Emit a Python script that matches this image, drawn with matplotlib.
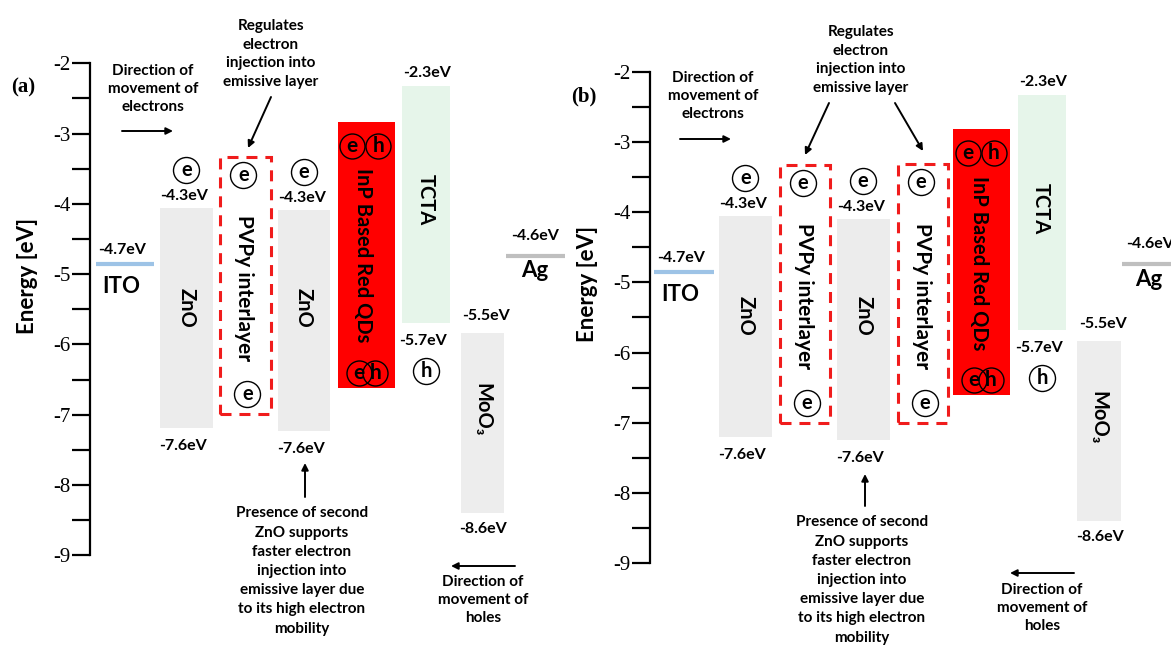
import matplotlib
matplotlib.use('Agg')
import matplotlib.pyplot as plt
from matplotlib.patches import Rectangle
from matplotlib.ticker import FuncFormatter

# ---------------- data ----------------
yticks_major = [-9, -8, -7, -6, -5, -4, -3, -2]
yticks_minor = [-8.5, -7.5, -6.5, -5.5, -4.5, -3.5, -2.5]

electrode_names = ['ITO', 'Ag']
electrode_level = [-4.85, -4.74]          # drawn level on the axis (eV)
electrode_text = ['-4.7eV', '-4.6eV']     # printed value

layers_a = ['ZnO', 'PVPy interlayer', 'ZnO', 'InP Based Red QDs', 'TCTA', 'MoO₃']
top_a = [-4.06, -3.33, -4.09, -2.83, -2.33, -5.84]
bottom_a = [-7.19, -6.99, -7.23, -6.62, -5.69, -8.39]

layers_b = ['ZnO', 'PVPy interlayer', 'ZnO', 'PVPy interlayer', 'InP Based Red QDs', 'TCTA', 'MoO₃']
top_b = [-4.06, -3.33, -4.10, -3.32, -2.81, -2.33, -5.84]
bottom_b = [-7.20, -7.01, -7.24, -7.00, -6.61, -5.68, -8.40]

top_text = {'ZnO': '-4.3eV', 'TCTA': '-2.3eV', 'MoO₃': '-5.5eV'}
bottom_text = {'ZnO': '-7.6eV', 'TCTA': '-5.7eV', 'MoO₃': '-8.6eV'}

# ---------------- layout / style ----------------
W, H = 1171, 646
FONT = ['Lato', 'DejaVu Sans']
SERIF = 'Liberation Serif'
LVL_FS = 11.5

panels = {
    'a': dict(px_m2=63.3, px_per_ev=70.3, axis_x=90,
              bars_x=[(160, 212.7), (220, 270.7), (277.7, 330.3), (337.7, 395), (402.4, 450.2), (460.6, 504.3)],
              elec_x=[(95.7, 154), (505.7, 565)],
              tag=('(a)', 23, 87), ylab=(28, 276)),
    'b': dict(px_m2=71.7, px_per_ev=70.2, axis_x=650,
              bars_x=[(719, 771.6), (780, 830), (836.5, 890), (897.5, 948), (953.3, 1010), (1018.3, 1066), (1076.5, 1121)],
              elec_x=[(654.3, 713.5), (1121.7, 1190)],
              tag=('(b)', 584, 96), ylab=(588, 284)),
}

style = {
    'ZnO': dict(fc='#ececec', fs=14.5, label_y=308, top_dx=-2, bot_dx=-3, top_dy=12, bot_dy=18, ldx=0),
    'PVPy interlayer': dict(fc=None, fs=15, label_y=288, ldx=-1),
    'InP Based Red QDs': dict(fc='#ff0000', fs=14.5, label_y=255, ldx=-3),
    'TCTA': dict(fc='#e6f5ea', fs=14.5, label_y=200, top_dx=1, bot_dx=-3, top_dy=13, bot_dy=18, ldx=-1),
    'MoO₃': dict(fc='#ededed', fs=14.5, label_y=410, top_dx=4, bot_dx=1, top_dy=17, bot_dy=16, ldx=0),
}


def make_ev(p):
    return lambda ypx: -2 - (ypx - p['px_m2']) / p['px_per_ev']


fig = plt.figure(figsize=(W / 100, H / 100), dpi=100)


def circle(ax, x, y, ch, r=13, fs=14.5):
    ax.plot([x], [y], marker='o', ms=2 * r * 0.72, mfc='none', mec='black', mew=1.0, zorder=5)
    ax.text(x, y, ch, ha='center', va='center', fontsize=fs, fontweight='bold', family=FONT, zorder=6)


def arrow(ax, x0, y0, x1, y1):
    ax.annotate('', xy=(x1, y1), xytext=(x0, y0),
                arrowprops=dict(arrowstyle='-|>', color='black', lw=1.4, mutation_scale=10,
                                shrinkA=0, shrinkB=0))


def draw_panel(key, layers, tops, bottoms, annotations):
    p = panels[key]
    ev = make_ev(p)
    ax = fig.add_axes([0, 0, 1, 1], facecolor='none')
    ax.set_xlim(0, W)
    ax.set_ylim(ev(H), ev(0))
    for s in ['top', 'right', 'bottom']:
        ax.spines[s].set_visible(False)
    ax.spines['left'].set_position(('data', p['axis_x']))
    ax.spines['left'].set_bounds(-9, -2)
    ax.spines['left'].set_linewidth(1.6)
    ax.set_xticks([])
    ax.set_yticks(yticks_major)
    ax.set_yticks(yticks_minor, minor=True)
    ax.yaxis.set_major_formatter(FuncFormatter(lambda v, pos: '-%d' % abs(round(v))))
    ax.tick_params(axis='y', which='both', direction='out', length=13, width=1.6,
                   labelsize=15, pad=1, labelfontfamily=SERIF)

    tag, tx, ty = p['tag']
    ax.text(tx, ev(ty), tag, ha='center', va='center', fontsize=15, fontweight='bold', family=SERIF)
    lx, ly = p['ylab']
    ax.text(lx, ev(ly), 'Energy [eV]', rotation=90, ha='center', va='center',
            fontsize=16, fontweight='bold', family=FONT)

    # electrodes
    ecolors = ['#9dc3e6', '#bfbfbf']
    for (x0, x1), lvl, name, txt, col in zip(p['elec_x'], electrode_level, electrode_names,
                                              electrode_text, ecolors):
        ax.plot([x0, x1], [lvl, lvl], color=col, lw=3.0, solid_capstyle='butt', zorder=2)
        xc = (x0 + x1) / 2 if x1 <= W else x0 + 28
        above = 14 if name == 'ITO' else 20
        below = 23 if name == 'ITO' else 15
        dx = -3 if name == 'ITO' else 0
        ax.annotate(txt, (xc + dx, lvl), xytext=(0, above), textcoords='offset pixels',
                    ha='center', va='center', fontsize=LVL_FS, fontweight='bold', family=FONT)
        ax.annotate(name, (xc - 4 if name == 'ITO' else xc - 1, lvl), xytext=(0, -below),
                    textcoords='offset pixels', ha='center', va='center', fontsize=16,
                    fontweight='bold', family=FONT)

    # layers
    for (x0, x1), name, t, b in zip(p['bars_x'], layers, tops, bottoms):
        st = style[name]
        xc = (x0 + x1) / 2
        if st['fc'] is None:
            ax.add_patch(Rectangle((x0, b), x1 - x0, t - b, fill=False, ec='#f01c1c', lw=2.2,
                                   ls=(0, (3.6, 2.6)), zorder=3))
        else:
            ax.add_patch(Rectangle((x0, b), x1 - x0, t - b, fc=st['fc'], ec='none', zorder=1))
        ax.text(xc + st['ldx'], make_ev(panels['a'])(st['label_y']), name, rotation=270,
                ha='center', va='center', fontsize=st['fs'], fontweight='bold', family=FONT, zorder=4)
        if name in top_text:
            ax.annotate(top_text[name], (xc + st['top_dx'], t), xytext=(0, st['top_dy']),
                        textcoords='offset pixels', ha='center', va='center',
                        fontsize=LVL_FS, fontweight='bold', family=FONT)
            ax.annotate(bottom_text[name], (xc + st['bot_dx'], b), xytext=(0, -st['bot_dy']),
                        textcoords='offset pixels', ha='center', va='center',
                        fontsize=LVL_FS, fontweight='bold', family=FONT)
        ppe = p['px_per_ev']
        if name == 'ZnO':
            circle(ax, xc, t + 38 / ppe, 'e')
        elif name == 'PVPy interlayer':
            circle(ax, xc - 2, t - 18 / ppe, 'e')
            circle(ax, xc + 2, b + 20 / ppe, 'e')
        elif name == 'InP Based Red QDs':
            circle(ax, xc - 14, t - 24 / ppe, 'e', r=12.5, fs=15)
            circle(ax, xc + 12, t - 24 / ppe, 'h', r=12.5, fs=15)
            circle(ax, xc - 7.5, b + 15 / ppe, 'e', r=12.5, fs=15)
            circle(ax, xc + 9, b + 15 / ppe, 'h', r=12.5, fs=15)
        elif name == 'TCTA':
            circle(ax, xc, b - 48 / ppe, 'h')

    # annotations (text blocks and arrows), positions in pixels
    for txt, x, y, fs, ls in annotations['texts']:
        ax.text(x, ev(y), txt, ha='center', va='center', fontsize=fs, fontweight='bold',
                family=FONT, linespacing=ls, zorder=6)
    for x0, y0, x1, y1 in annotations['arrows']:
        arrow(ax, x0, ev(y0), x1, ev(y1))
    return ax


elec_txt = 'Direction of\nmovement of\nelectrons'
reg_txt = 'Regulates\nelectron\ninjection into\nemissive layer'
pres_txt = ('Presence of second\nZnO supports\nfaster electron\ninjection into\n'
            'emissive layer due\nto its high electron\nmobility')
hole_txt = 'Direction of\nmovement of\nholes'

ann_a = dict(
    texts=[(elec_txt, 153, 89, 11, 1.4), (reg_txt, 271, 54, 11, 1.4),
           (pres_txt, 302, 571, 11, 1.47), (hole_txt, 483, 600, 11, 1.4)],
    arrows=[(122, 131, 173, 131), (271, 97, 248, 148), (305, 497, 305, 463), (515, 566, 451, 566)],
)
ann_b = dict(
    texts=[(elec_txt, 713, 96, 11, 1.4), (reg_txt, 861, 60, 11, 1.4),
           (pres_txt, 862, 580, 11, 1.47), (hole_txt, 1042, 608, 11, 1.4)],
    arrows=[(680, 139, 731, 139), (829, 103, 805, 155), (895, 103, 923, 151),
            (865, 506, 865, 474), (1074, 573, 1010, 573)],
)

draw_panel('a', layers_a, top_a, bottom_a, ann_a)
draw_panel('b', layers_b, top_b, bottom_b, ann_b)

fig.savefig('out.png', dpi=100, facecolor='white')
